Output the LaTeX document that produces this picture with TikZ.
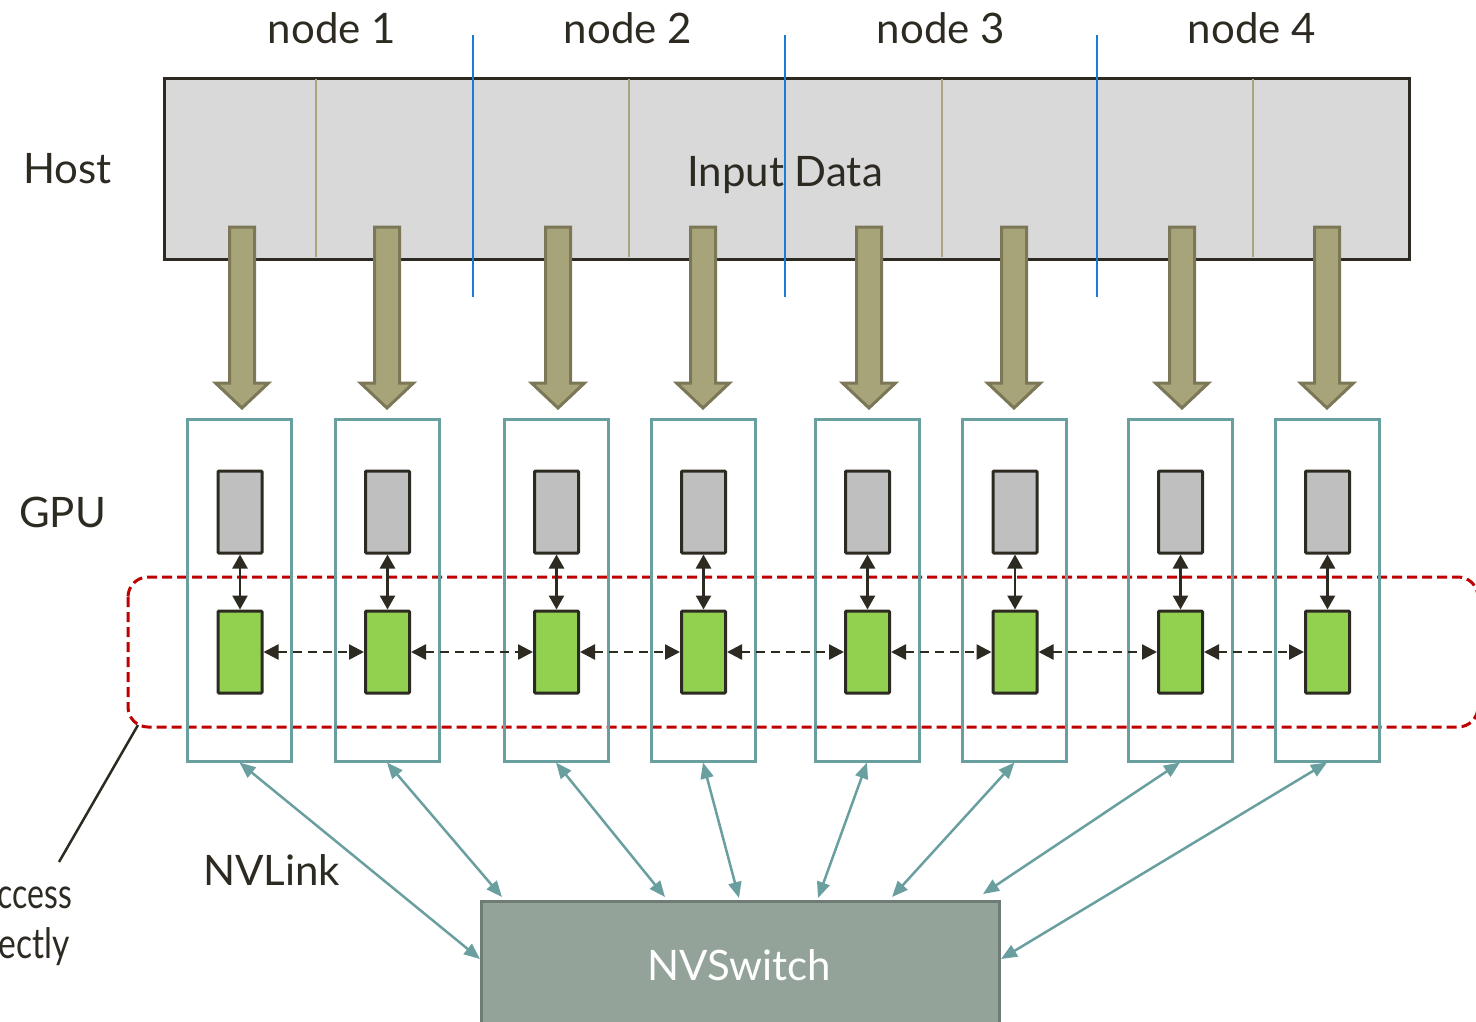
\documentclass[tikz,border=0pt]{standalone}
\usepackage{fontspec}
\setmainfont{Lato}
\usetikzlibrary{arrows.meta,calc}
\definecolor{dk}{HTML}{2D2A22}
\definecolor{hostfill}{HTML}{D9D9D9}
\definecolor{divc}{HTML}{A9A57E}
\definecolor{bluec}{HTML}{1C7CD5}
\definecolor{fatfill}{HTML}{A8A47A}
\definecolor{fatdraw}{HTML}{7B7757}
\definecolor{teal}{HTML}{6A9FA0}
\definecolor{grayc}{HTML}{BFBFBF}
\definecolor{greenc}{HTML}{92D050}
\definecolor{redc}{HTML}{C00000}
\definecolor{swfill}{HTML}{93A39A}
\definecolor{swdraw}{HTML}{6E7C75}
\tikzset{
  lbl/.style={text=dk, font=\fontsize{42}{50}\selectfont, inner sep=0pt},
  hostbox/.style={draw=dk, fill=hostfill, line width=3pt, inner sep=0pt, minimum width=1245, minimum height=181},
  divider/.style={draw=divc, line width=2pt},
  blueline/.style={draw=bluec, line width=1.6pt},
  fat/.style={draw=fatdraw, fill=fatfill, line width=3pt, line join=miter},
  gpubox/.style={draw=teal, line width=3pt, inner sep=0pt, minimum width=104, minimum height=342},
  membox/.style={draw=dk, fill=grayc, line width=3pt, inner sep=0pt, minimum width=44, minimum height=82, rounded corners=1pt},
  corebox/.style={membox, fill=greenc},
  vlink/.style={draw=dk, line width=2.5pt, {Triangle[length=14pt,width=15pt]}-{Triangle[length=14pt,width=15pt]}},
  hlink/.style={draw=dk, line width=2.5pt, dash pattern=on 9pt off 6pt, {Triangle[length=15pt,width=15pt]}-{Triangle[length=15pt,width=15pt]}},
  reddash/.style={draw=redc, line width=3pt, dash pattern=on 10pt off 5pt, rounded corners=20pt},
  nvl/.style={draw=teal, line width=2.5pt, {Triangle[length=16pt,width=13pt]}-{Triangle[length=16pt,width=13pt]}},
  swbox/.style={draw=swdraw, fill=swfill, line width=3pt, inner sep=0pt, minimum width=518, minimum height=130}
}
\begin{document}
\begin{tikzpicture}[x=1pt,y=-1pt]
\useasboundingbox (0,0) rectangle (1476,1021);
% host
\node[hostbox, anchor=north west] (host) at (163,77) {};
\foreach \x in {316,629,942,1253}{\draw[divider] (\x,78.5) -- (\x,256.5);}
\node[lbl, anchor=base] (inp) at (785,186) {Input Data};
\foreach \x in {473,785,1097}{\draw[blueline] (\x,35) -- (\x,297);}
% labels
\node[lbl, anchor=base] (n1) at (332,43) {node 1};
\node[lbl, anchor=base] (n2) at (628,43) {node 2};
\node[lbl, anchor=base] (n3) at (941,43) {node 3};
\node[lbl, anchor=base] (n4) at (1252,43) {node 4};
\node[lbl, anchor=base] (hostl) at (67.5,183) {Host};
\node[lbl, anchor=base] (gpul) at (62.5,527) {GPU};
\node[lbl, anchor=base] (nvl) at (271.5,885) {NVLink};
\node[lbl, anchor=base east] (t1) at (72,908) {\scalebox{0.76}[1]{ccess}};
\node[lbl, anchor=base east] (t2) at (70,958) {\scalebox{0.8}[1]{ectly}};
% fat arrows
\foreach \cx in {242,387,558,703,869,1014,1182,1327}{
  \draw[fat] (\cx-12.5,227) -- (\cx+12.5,227) -- (\cx+12.5,383) -- (\cx+26.5,383) -- (\cx,408) -- (\cx-26.5,383) -- (\cx-12.5,383) -- cycle;
}
% red dashed region
\draw[reddash] (128,577) rectangle (1478,727);
\coordinate (lead) at (59,862);
\draw[draw=dk, line width=2.5pt] (138,725) -- (lead);
% GPUs
\foreach \i/\cx in {1/239.5,2/387,3/556,4/703,5/867,6/1014.5,7/1180,8/1327}{
  \node[gpubox] (g\i) at (\cx,590) {};
  \node[membox] (c\i) at (\cx+0.5,512) {};
  \node[corebox] (m\i) at (\cx+0.5,652) {};
  \draw[vlink] (c\i.south) -- (m\i.north);
}
\foreach \i/\j in {1/2,2/3,3/4,4/5,5/6,6/7,7/8}{
  \draw[hlink] (m\i.east) -- (m\j.west);
}
% NVSwitch
\node[swbox, anchor=north west] (sw) at (480,900) {};
\node[lbl, text=white, anchor=base] (swl) at (739,980) {NVSwitch};
\draw[nvl] (g1.south) -- ($(sw.north west)+(0,59)$);
\draw[nvl] (g2.south) -- ($(sw.north west)+(22,-3)$);
\draw[nvl] (g3.south) -- ($(sw.north west)+(185,-3)$);
\draw[nvl] (g4.south) -- ($(sw.north west)+(259,-2)$);
\draw[nvl] (g5.south) -- ($(sw.north west)+(338,-2)$);
\draw[nvl] (g6.south) -- ($(sw.north west)+(412,-3)$);
\draw[nvl] (g7.south) -- ($(sw.north west)+(503,-6)$);
\draw[nvl] (g8.south) -- ($(sw.north east)+(0,59)$);
\end{tikzpicture}
\end{document}
